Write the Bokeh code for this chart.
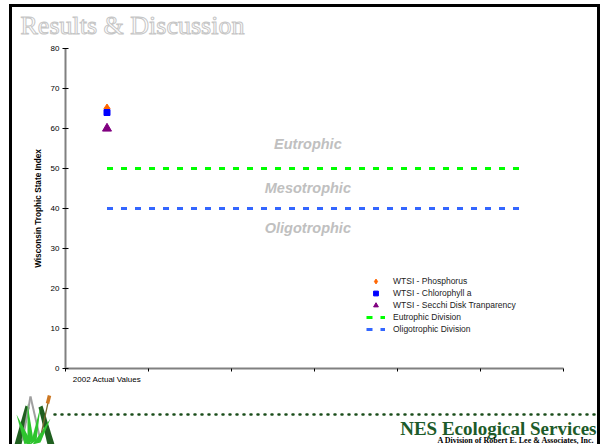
from bokeh.plotting import figure
from bokeh.layouts import column
from bokeh.models import Range1d, FixedTicker, Legend, LegendItem, ColumnDataSource
from bokeh.core.properties import value
from bokeh.embed import file_html
from bokeh.resources import INLINE

# ---------------- data ----------------
categories = ["2002 Actual Values"]
n_slots = 6
wtsi_phosphorus = [65]
wtsi_chlorophyll = [64]
wtsi_secchi = [60]
eutrophic_division = 50
oligotrophic_division = 40
zone_labels = ["Eutrophic", "Mesotrophic", "Oligotrophic"]
zone_values = [56.1, 45.1, 35.1]
y_ticks = [0, 10, 20, 30, 40, 50, 60, 70, 80]
series_names = ["WTSI - Phosphorus", "WTSI - Chlorophyll a",
                "WTSI - Secchi Disk Tranparency", "Eutrophic Division",
                "Oligotrophic Division"]

SANS = "Liberation Sans"
SERIF = "Liberation Serif"

# slide frame: content box in page pixels
X0, Y0, X1, Y1 = 12, 7, 597, 444
CW = X1 - X0
TOP_H, CH_H = 33, 352
BOT_Y = Y0 + TOP_H + CH_H


def no_align(f):
    try:
        f.frame_align = False
    except Exception:
        pass
    return f


def decor(y0, h):
    f = figure(width=CW, height=h, x_range=Range1d(X0, X1), y_range=Range1d(y0 + h, y0),
               output_backend="svg", toolbar_location=None, title=None,
               x_axis_type=None, y_axis_type=None, min_border=0,
               background_fill_color="white", border_fill_color="white")
    f.outline_line_color = None
    return no_align(f)


# ---------------- title strip ----------------
top = decor(Y0, TOP_H)
ttl = top.text(x=[20], y=[24.5], text=["Results & Discussion"], text_font=value(SERIF),
               text_font_size="26px", text_color="#CCCCCC", text_baseline="middle")
try:
    ttl.glyph.text_outline_color = "#C6C6C6"
    ttl.glyph.text_color = "#FFFFFF"
except Exception:
    pass

# ---------------- chart ----------------
FR_L, FR_T, FR_W, FR_H = 65, 48, 498, 320
CH_Y = Y0 + TOP_H
p = figure(width=CW, height=CH_H, x_range=Range1d(0, n_slots),
           y_range=Range1d(0, 80), output_backend="svg", toolbar_location=None, title=None,
           min_border_left=FR_L - X0, min_border_right=CW - (FR_L - X0) - FR_W,
           min_border_top=FR_T - CH_Y, min_border_bottom=CH_H - (FR_T - CH_Y) - FR_H,
           background_fill_color="white", border_fill_color="white")
no_align(p)
p.outline_line_color = None
p.xgrid.visible = False
p.ygrid.visible = False

# y axis
p.yaxis.ticker = FixedTicker(ticks=y_ticks, minor_ticks=[])
p.yaxis.axis_line_color = "#808080"
p.yaxis.axis_line_width = 2
p.yaxis.major_tick_line_color = "black"
p.yaxis.major_tick_in = 3
p.yaxis.major_tick_out = 3
p.yaxis.minor_tick_line_color = None
p.yaxis.major_label_text_font = SANS
p.yaxis.major_label_text_font_size = "8px"
p.yaxis.major_label_text_color = "black"
p.yaxis.major_label_standoff = 3
p.yaxis.axis_label = "Wisconsin Trophic State Index"
p.yaxis.axis_label_text_font = SANS
p.yaxis.axis_label_text_font_size = "8.2px"
p.yaxis.axis_label_text_font_style = "bold"
p.yaxis.axis_label_text_color = "black"
p.yaxis.axis_label_standoff = 5

# x axis
centers = [i + 0.5 for i in range(len(categories))]
p.xaxis.ticker = FixedTicker(ticks=centers, minor_ticks=list(range(n_slots + 1)))
p.xaxis.major_label_overrides = {c: lab for c, lab in zip(centers, categories)}
p.xaxis.axis_line_color = "#808080"
p.xaxis.axis_line_width = 2
p.xaxis.major_tick_in = 0
p.xaxis.major_tick_out = 0
p.xaxis.minor_tick_in = 0
p.xaxis.minor_tick_out = 3
p.xaxis.minor_tick_line_color = "black"
p.xaxis.major_label_text_font = SANS
p.xaxis.major_label_text_font_size = "8px"
p.xaxis.major_label_text_color = "black"
p.xaxis.major_label_standoff = 3

# division lines
slot_centers = [i + 0.5 for i in range(n_slots)]
r_eu = p.line(slot_centers, [eutrophic_division] * n_slots, line_color="#00FF00",
              line_width=3, line_dash="6 8")
r_ol = p.line(slot_centers, [oligotrophic_division] * n_slots, line_color="#3366FF",
              line_width=3, line_dash="6 8")

# markers
r_ph = p.scatter(centers, wtsi_phosphorus, marker="diamond", size=9,
                 fill_color="#FF6600", line_color="#FF6600")
r_ch = p.scatter(centers, wtsi_chlorophyll, marker="square", size=6,
                 fill_color="#0000FF", line_color="#0000FF")
r_se = p.scatter(centers, wtsi_secchi, marker="triangle", size=9,
                 fill_color="#800080", line_color="#800080")

# zone labels
zsrc = ColumnDataSource(dict(x=[2.92] * len(zone_labels), y=zone_values, t=zone_labels))
p.text("x", "y", text="t", source=zsrc, text_font=value(SANS), text_font_size="14.5px",
       text_font_style="bold italic", text_color="#C0C0C0", text_align="center",
       text_baseline="middle")

# legend
legend = Legend(items=[LegendItem(label=n, renderers=[r]) for n, r in
                       zip(series_names, [r_ph, r_ch, r_se, r_eu, r_ol])],
                location=(301, 33), orientation="vertical",
                glyph_width=19, glyph_height=12, label_height=12, spacing=0,
                padding=0, margin=0, label_standoff=8,
                label_text_font=SANS, label_text_font_size="8.5px",
                label_text_color="#222222", border_line_color=None,
                background_fill_alpha=0)
p.add_layout(legend)

# ---------------- footer ----------------
bot = decor(BOT_Y, Y1 - BOT_Y)
bot.line(x=[54, 600], y=[414, 414], line_color="#1A4D1A", line_width=2.5,
         line_dash="1 6", line_cap="round")
bot.text(x=[596], y=[428], text=["NES Ecological Services"], text_font=value(SERIF),
         text_font_size="19px", text_font_style="bold", text_color="#1D5B2A",
         text_align="right", text_baseline="middle")
bot.text(x=[594], y=[440], text=["A Division of Robert E. Lee & Associates, Inc."],
         text_font=value(SERIF), text_font_size="8px", text_font_style="bold",
         text_color="black", text_align="right", text_baseline="middle")
# logo
bot.patches(xs=[[14, 25, 29, 21], [54, 42, 38, 47]],
            ys=[[444, 405, 407, 444], [444, 405, 407, 444]],
            fill_color="#1F5F1F", line_color=None)
bot.multi_line(xs=[[30, 22], [30, 40]], ys=[[396, 440], [396, 440]],
               line_color="#A0A0A0", line_width=2)
bot.patches(xs=[[24, 16, 30], [27, 27, 33], [30, 40, 36], [32, 50, 40], [26, 21, 31]],
            ys=[[444, 414, 440], [444, 403, 440], [444, 406, 440], [444, 418, 442],
                [444, 424, 444]],
            fill_color="#2EC42E", line_color=None)
bot.line(x=[41, 48], y=[432, 400], line_color="#7A6A30", line_width=1.2)
bot.line(x=[47, 49], y=[403, 395], line_color="#CC7722", line_width=3.5)

layout = column(top, p, bot, margin=(4, 0, 0, 9),
                styles={"border-left": "3px solid black", "border-top": "3px solid black",
                        "border-right": "3px solid black"})
open("out.html", "w").write(file_html(layout, INLINE))
